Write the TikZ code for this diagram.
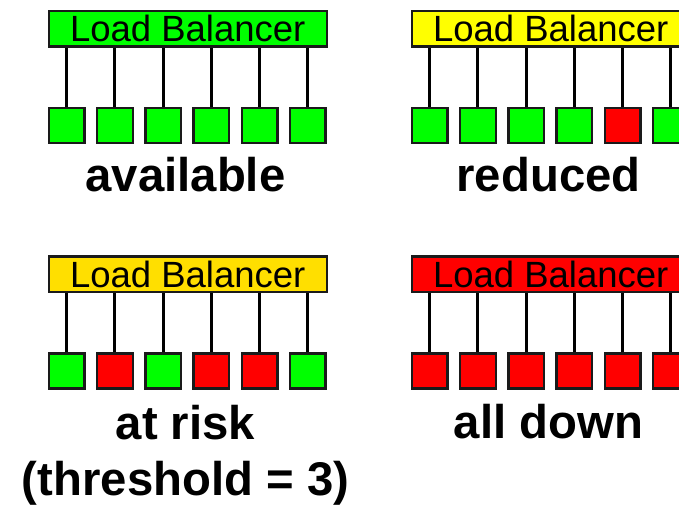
\documentclass[tikz,border=0pt]{standalone}
\usepackage{fontspec}
\setmainfont{Liberation Sans}
\definecolor{lbgreen}{HTML}{00FF00}
\definecolor{lbyellow}{HTML}{FFFF00}
\definecolor{lbgold}{HTML}{FFDF00}
\definecolor{lbred}{HTML}{FF0000}
\definecolor{edge}{HTML}{1A1A1A}
\tikzset{
  lbbox/.style={draw=edge, line width=2.2pt, minimum width=277.8pt, minimum height=35.5pt, inner sep=0pt,
    font=\fontsize{36.5}{40}\selectfont},
  srv/.style={draw=edge, line width=2.4pt, minimum width=35.6pt, minimum height=34.8pt, inner sep=0pt},
  conn/.style={draw=black, line width=3pt},
  lbl/.style={font=\fontsize{47.3}{52}\selectfont\bfseries, inner sep=0pt, anchor=base}
}
% #1 name, #2 dx, #3 dy, #4 box colour, #5 server colours, #6 label, #7 label baseline
\newcommand\lbpanel[7]{%
  \node[lbbox, fill=#4] (lb#1) at ({187.7+#2},{28.8+#3}) {Load Balancer};
  \foreach \c [count=\i from 0] in {#5} {
    \node[srv, fill=\c] (#1s\i) at ({66.7+48.2*\i+#2},{125.5+#3}) {};
    \draw[conn] (#1s\i.north) -- (#1s\i.north |- lb#1.south);
  }
  \node[lbl] (lab#1) at ({185.5+#2},{#7}) {#6};
}
\begin{document}
\begin{tikzpicture}[x=1pt,y=-1pt]
\useasboundingbox (0,0) rectangle (679,505);
\clip (0,0) rectangle (679,505);
\lbpanel{A}{0}{0}{lbgreen}{lbgreen,lbgreen,lbgreen,lbgreen,lbgreen,lbgreen}{available}{191.7}
\lbpanel{B}{363}{0}{lbyellow}{lbgreen,lbgreen,lbgreen,lbgreen,lbred,lbgreen}{reduced}{191.7}
\lbpanel{C}{0}{245.5}{lbgold}{lbgreen,lbred,lbgreen,lbred,lbred,lbgreen}{at risk}{439}
\lbpanel{D}{363}{245.5}{lbred}{lbred,lbred,lbred,lbred,lbred,lbred}{all down}{438.5}
\node[lbl] (thr) at (185.5,495.5) {(threshold = 3)};
\end{tikzpicture}
\end{document}
